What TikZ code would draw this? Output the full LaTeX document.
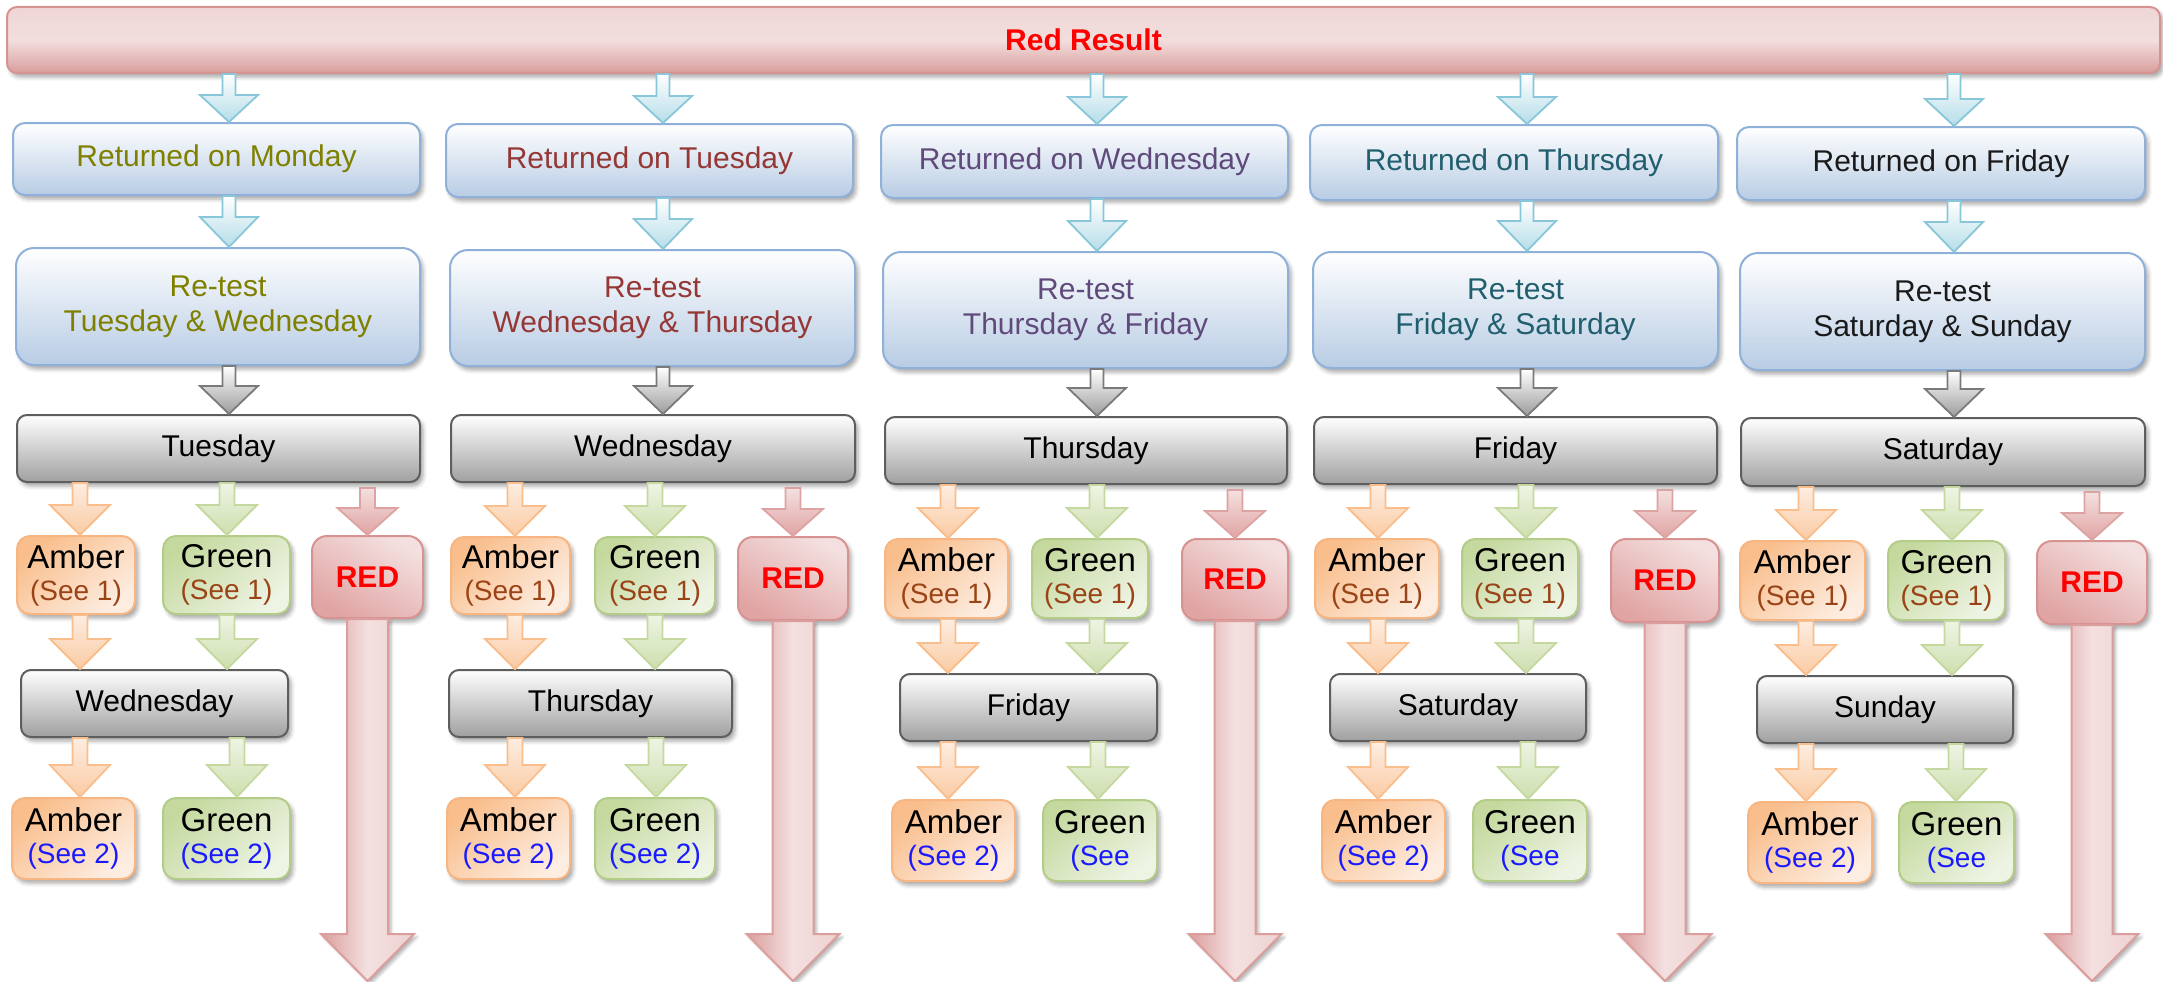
\documentclass[tikz,border=0pt]{standalone}
\usepackage{fontspec}
\setmainfont{Liberation Sans}
\usetikzlibrary{calc,shadows.blur}

\definecolor{bluebd}{HTML}{8FB0D8}
\definecolor{bluebot}{HTML}{B8CCE4}
\definecolor{graybd}{HTML}{5E5E5E}
\definecolor{graybot}{HTML}{A0A0A0}
\definecolor{amberbd}{HTML}{F7B581}
\definecolor{amberdk}{HTML}{F9BE8C}
\definecolor{amberlt}{HTML}{FDEDE1}
\definecolor{greenbd}{HTML}{B3CC87}
\definecolor{greendk}{HTML}{C5D99F}
\definecolor{greenlt}{HTML}{EEF4E4}
\definecolor{redbd}{HTML}{D79391}
\definecolor{redlt}{HTML}{F4E0E0}
\definecolor{reddk}{HTML}{E0A4A3}
\definecolor{barlt}{HTML}{F2DEDE}
\definecolor{barmid}{HTML}{EFD6D6}
\definecolor{bardk}{HTML}{DA9E9D}
\definecolor{arrblue}{HTML}{88C6D9}
\definecolor{arrbluef}{HTML}{B5DDE8}
\definecolor{arrgray}{HTML}{7A7A7A}
\definecolor{arrgrayf}{HTML}{9C9C9C}
\definecolor{txtmon}{HTML}{7F7F00}
\definecolor{txttue}{HTML}{953735}
\definecolor{txtwed}{HTML}{604A7B}
\definecolor{txtthu}{HTML}{215F6E}
\definecolor{txtfri}{HTML}{1A1A1A}
\definecolor{seebrown}{HTML}{9A4316}
\definecolor{seeblue}{HTML}{1A1AFF}
\definecolor{redtxt}{HTML}{FF0000}

\tikzset{
  bx/.style={rounded corners=12pt, draw, line width=2pt, inner sep=2pt, align=center,
    font=\fontsize{30}{35}\selectfont,
    blur shadow={shadow xshift=3pt, shadow yshift=-4pt, shadow opacity=35, shadow blur radius=4pt}},
  barbox/.style={bx, draw=redbd, rounded corners=10pt, top color=barmid, bottom color=bardk, middle color=barlt,
    font=\fontsize{30}{35}\selectfont\bfseries, text=redtxt},
  bluebox/.style={bx, draw=bluebd, top color=white, bottom color=bluebot},
  bigbluebox/.style={bluebox, rounded corners=18pt},
  graybox/.style={bx, draw=graybd, rounded corners=10pt, top color=white, bottom color=graybot},
  amberbox/.style={bx, draw=amberbd, rounded corners=13pt, top color=amberdk, bottom color=amberlt, shading angle=40,
    font=\fontsize{33}{32}\selectfont},
  greenbox/.style={bx, draw=greenbd, rounded corners=13pt, top color=greendk, bottom color=greenlt, shading angle=40,
    font=\fontsize{33}{32}\selectfont},
  redbox/.style={bx, draw=redbd, rounded corners=15pt, top color=redlt, bottom color=reddk, shading angle=-30,
    font=\fontsize{30}{35}\selectfont\bfseries, text=redtxt},
  bluearr/.style={draw=arrblue, line width=1.8pt, line join=miter, top color=white, bottom color=arrbluef},
  grayarr/.style={draw=arrgray, line width=1.8pt, line join=miter, top color=white, bottom color=arrgrayf},
  amberarr/.style={draw=amberdk, line width=1.8pt, line join=miter, top color=amberlt, bottom color=amberdk!80},
  greenarr/.style={draw=greendk, line width=1.8pt, line join=miter, top color=greenlt, bottom color=greendk!85},
  redarr/.style={draw=redbd!85, line width=1.8pt, line join=miter, top color=redlt, bottom color=reddk},
  longred/.style={draw=redbd!90, line width=2pt, line join=miter, left color=bardk, right color=barlt!80!bardk, middle color=redlt,
    blur shadow={shadow xshift=3pt, shadow yshift=-3pt, shadow opacity=30, shadow blur radius=3pt}},
}

% #1 style, #2 name, #3 x1, #4 y1, #5 x2, #6 y2, #7 text
\newcommand\mkbox[7]{\node[#1, minimum width={(#5-#3)*1pt}, minimum height={(#6-#4)*1pt}] (#2) at ({(#3+#5)/2},{(#4+#6)/2}) {#7};}
% #1 style, #2 x-coordinate, #3 from, #4 to, #5 shaft half width, #6 head half width, #7 head length
\newcommand\barr[7]{\path[#1] let \p3=(#2), \p1=(#3), \p2=(#4) in
  (\x3-#5pt,\y1) -- (\x3+#5pt,\y1) -- (\x3+#5pt,\y2+#7pt) -- (\x3+#6pt,\y2+#7pt) -- (\x3,\y2)
  -- (\x3-#6pt,\y2+#7pt) -- (\x3-#5pt,\y2+#7pt) -- cycle;}
\newcommand\seeone{\\{\fontsize{28}{31}\selectfont\color{seebrown}(See 1)}}
\newcommand\seetwo{\\{\fontsize{28}{31}\selectfont\color{seeblue}(See 2)}}
\newcommand\seetr{\\{\fontsize{28}{31}\selectfont\color{seeblue}(See}}

\begin{document}
\begin{tikzpicture}[x=1pt, y=-1pt]
\useasboundingbox (0,0) rectangle (2163,982);
\coordinate (bot) at (0,981);

\mkbox{barbox}{bar}{7}{7}{2160}{73}{Red Result}

% ---------- column 1 ----------
\mkbox{bluebox, text=txtmon}{ret1}{13}{123}{420}{195}{Returned on Monday}
\mkbox{bigbluebox, text=txtmon}{rt1}{16}{248}{420}{365}{Re-test\\Tuesday \& Wednesday}
\mkbox{graybox}{da1}{17}{415}{420}{482}{Tuesday}
\mkbox{amberbox}{am1}{17}{536}{135}{614}{Amber\seeone}
\mkbox{greenbox}{gr1}{163}{536}{290}{614}{Green\seeone}
\mkbox{redbox}{rd1}{312}{536}{423}{618}{RED}
\mkbox{graybox}{db1}{21}{670}{288}{737}{Wednesday}
\mkbox{amberbox}{ama1}{12}{798}{135}{879}{Amber\seetwo}
\mkbox{greenbox}{gra1}{163}{798}{290}{879}{Green\seetwo}

% ---------- column 2 ----------
\mkbox{bluebox, text=txttue}{ret2}{446}{124}{853}{197}{Returned on Tuesday}
\mkbox{bigbluebox, text=txttue}{rt2}{450}{250}{855}{366}{Re-test\\Wednesday \& Thursday}
\mkbox{graybox}{da2}{451}{415}{855}{482}{Wednesday}
\mkbox{amberbox}{am2}{451}{537}{570}{614}{Amber\seeone}
\mkbox{greenbox}{gr2}{595}{537}{715}{614}{Green\seeone}
\mkbox{redbox}{rd2}{738}{537}{848}{620}{RED}
\mkbox{graybox}{db2}{449}{670}{732}{737}{Thursday}
\mkbox{amberbox}{ama2}{447}{798}{570}{879}{Amber\seetwo}
\mkbox{greenbox}{gra2}{595}{798}{715}{879}{Green\seetwo}

% ---------- column 3 ----------
\mkbox{bluebox, text=txtwed}{ret3}{881}{125}{1288}{198}{Returned on Wednesday}
\mkbox{bigbluebox, text=txtwed}{rt3}{883}{252}{1288}{368}{Re-test\\Thursday \& Friday}
\mkbox{graybox}{da3}{885}{417}{1287}{484}{Thursday}
\mkbox{amberbox}{am3}{885}{539}{1008}{618}{Amber\seeone}
\mkbox{greenbox}{gr3}{1032}{539}{1148}{618}{Green\seeone}
\mkbox{redbox}{rd3}{1182}{539}{1288}{620}{RED}
\mkbox{graybox}{db3}{900}{674}{1157}{741}{Friday}
\mkbox{amberbox}{ama3}{892}{800}{1015}{881}{Amber\seetwo}
\mkbox{greenbox}{gra3}{1043}{800}{1157}{881}{Green\seetr}

% ---------- column 4 ----------
\mkbox{bluebox, text=txtthu}{ret4}{1310}{125}{1718}{200}{Returned on Thursday}
\mkbox{bigbluebox, text=txtthu}{rt4}{1313}{252}{1718}{368}{Re-test\\Friday \& Saturday}
\mkbox{graybox}{da4}{1314}{417}{1717}{484}{Friday}
\mkbox{amberbox}{am4}{1315}{539}{1439}{618}{Amber\seeone}
\mkbox{greenbox}{gr4}{1462}{539}{1578}{618}{Green\seeone}
\mkbox{redbox}{rd4}{1611}{539}{1719}{622}{RED}
\mkbox{graybox}{db4}{1330}{674}{1586}{741}{Saturday}
\mkbox{amberbox}{ama4}{1322}{800}{1445}{881}{Amber\seetwo}
\mkbox{greenbox}{gra4}{1473}{800}{1587}{881}{Green\seetr}

% ---------- column 5 ----------
\mkbox{bluebox, text=txtfri}{ret5}{1737}{127}{2145}{200}{Returned on Friday}
\mkbox{bigbluebox, text=txtfri}{rt5}{1740}{253}{2145}{370}{Re-test\\Saturday \& Sunday}
\mkbox{graybox}{da5}{1741}{418}{2145}{486}{Saturday}
\mkbox{amberbox}{am5}{1740}{541}{1865}{620}{Amber\seeone}
\mkbox{greenbox}{gr5}{1888}{541}{2005}{620}{Green\seeone}
\mkbox{redbox}{rd5}{2037}{541}{2147}{624}{RED}
\mkbox{graybox}{db5}{1757}{676}{2013}{743}{Sunday}
\mkbox{amberbox}{ama5}{1748}{802}{1872}{883}{Amber\seetwo}
\mkbox{greenbox}{gra5}{1899}{802}{2014}{883}{Green\seetr}

% arrow axes
\coordinate (c1) at (229,0);  \coordinate (a1) at (80,0);   \coordinate (g1) at (227,0);  \coordinate (aa1) at (80,0);   \coordinate (gg1) at (237,0);
\coordinate (c2) at (663,0);  \coordinate (a2) at (515,0);  \coordinate (g2) at (655,0);  \coordinate (aa2) at (515,0);  \coordinate (gg2) at (656,0);
\coordinate (c3) at (1097,0); \coordinate (a3) at (948,0);  \coordinate (g3) at (1097,0); \coordinate (aa3) at (948,0);  \coordinate (gg3) at (1098,0);
\coordinate (c4) at (1527,0); \coordinate (a4) at (1378,0); \coordinate (g4) at (1526,0); \coordinate (aa4) at (1378,0); \coordinate (gg4) at (1528,0);
\coordinate (c5) at (1954,0); \coordinate (a5) at (1806,0); \coordinate (g5) at (1952,0); \coordinate (aa5) at (1806,0); \coordinate (gg5) at (1956,0);

\foreach \k in {1,...,5}{
  \barr{bluearr}{c\k}{bar.south}{ret\k.north}{6.5}{29}{27}
  \barr{bluearr}{c\k}{ret\k.south}{rt\k.north}{6.5}{29}{30}
  \barr{grayarr}{c\k}{rt\k.south}{da\k.north}{6.5}{29}{28}
  \barr{amberarr}{a\k}{da\k.south}{am\k.north}{7.5}{30}{30}
  \barr{greenarr}{g\k}{da\k.south}{gr\k.north}{7.5}{30}{30}
  \barr{redarr}{rd\k}{[yshift=-5pt]da\k.south}{rd\k.north}{7.5}{30}{27}
  \barr{amberarr}{a\k}{am\k.south}{db\k.north}{7.5}{30}{30}
  \barr{greenarr}{g\k}{gr\k.south}{db\k.north}{7.5}{30}{30}
  \barr{amberarr}{aa\k}{db\k.south}{ama\k.north}{7.5}{30}{32}
  \barr{greenarr}{gg\k}{db\k.south}{gra\k.north}{7.5}{30}{32}
  \barr{longred}{rd\k}{rd\k.south}{bot}{20.5}{46.5}{47}
}
\end{tikzpicture}
\end{document}
